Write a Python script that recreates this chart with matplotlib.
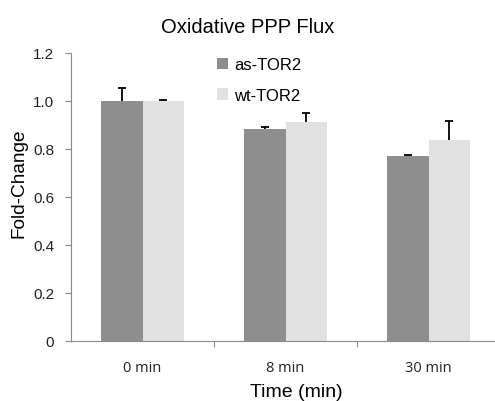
import numpy as np
import matplotlib
matplotlib.use("Agg")
import matplotlib.pyplot as plt
from matplotlib.ticker import FixedLocator, FuncFormatter

categories = ["0 min", "8 min", "30 min"]
series_names = ["as-TOR2", "wt-TOR2"]
as_tor2 = [1.0, 0.885, 0.770]
as_tor2_err = [0.053, 0.007, 0.004]
wt_tor2 = [1.0, 0.911, 0.838]
wt_tor2_err = [0.006, 0.038, 0.078]

colors = ["#8e8e8e", "#e1e1e1"]
axis_color = "#8a8a8a"

fig = plt.figure(figsize=(4.95, 4.02), dpi=100)
ax = fig.add_axes([71 / 495, 60.3 / 402, (495 - 71) / 495, (341.7 - 54) / 402])

x = np.arange(len(categories))
w = 0.287
for i, (vals, errs) in enumerate([(as_tor2, as_tor2_err), (wt_tor2, wt_tor2_err)]):
    pos = x + (i - 0.5) * w
    vals = np.array(vals)
    errs = np.array(errs)
    ax.bar(pos, vals, width=w, color=colors[i], edgecolor="none",
           label=series_names[i], zorder=2)
    # upper error bar only, cap on top
    ax.vlines(pos, vals, vals + errs, color="black", linewidth=1.3, zorder=3)
    ax.plot(pos, vals + errs, linestyle="none", marker="_", markersize=6,
            markeredgewidth=1.3, color="black", zorder=3)

ax.set_xlim(-0.5, 2.5 - 5 / 143)
ax.set_ylim(0, 1.2)

ax.spines["top"].set_visible(False)
ax.spines["right"].set_visible(False)
ax.spines["left"].set_color(axis_color)
ax.spines["bottom"].set_color(axis_color)

ax.yaxis.set_major_locator(FixedLocator(np.arange(0, 1.21, 0.2)))
ax.yaxis.set_major_formatter(FuncFormatter(lambda v, p: "0" if abs(v) < 1e-9 else f"{v:.1f}"))
ax.tick_params(axis="y", direction="out", length=4, color=axis_color,
               labelsize=11, pad=8)
for lbl in ax.get_yticklabels():
    lbl.set_fontfamily("Liberation Sans")
    lbl.set_color("#222222")

# category boundaries as ticks, labels centred in between
ax.set_xticks([0.5, 1.5])
ax.set_xticklabels([])
ax.tick_params(axis="x", which="major", direction="out", length=4, color=axis_color)
ax.set_xticks(x, minor=True)
ax.set_xticklabels(categories, minor=True, fontsize=10.5, fontfamily="Open Sans",
                   color="#222222")
ax.tick_params(axis="x", which="minor", length=0, pad=14)

ax.set_ylabel("Fold-Change", fontsize=13.7, fontfamily="Liberation Sans")
ax.yaxis.set_label_coords(-0.123, 0.552)
ax.set_xlabel("Time (min)", fontsize=14, fontfamily="Liberation Sans")
ax.xaxis.set_label_coords((296 - 71) / 424, -(393 - 341.7) / 287.7)
ax.xaxis.label.set_va("center")
ax.yaxis.label.set_va("center")
fig.suptitle("Oxidative PPP Flux", fontsize=14.5, fontfamily="Liberation Sans",
             x=0.5, y=0.955)

leg = ax.legend(loc="upper left", bbox_to_anchor=(0.31, 1.038), frameon=False,
                prop={"family": "Liberation Sans", "size": 12},
                handlelength=0.65, handleheight=0.65, handletextpad=0.35,
                labelspacing=0.95)

fig.savefig("out.png", dpi=100)
